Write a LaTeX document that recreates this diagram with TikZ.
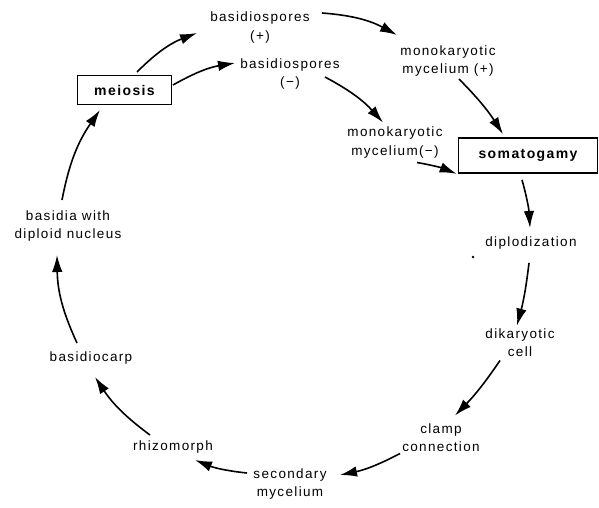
\documentclass[tikz,border=0pt]{standalone}
\usepackage{fontspec}
\setmainfont{Liberation Sans}[LetterSpace=10]
\usetikzlibrary{arrows.meta,calc}
\tikzset{
  lbl/.style={align=center,inner sep=1pt,font=\fontsize{13.5}{18.5}\selectfont},
  boxnode/.style={draw,line width=1.7pt,align=center,inner sep=0pt,font=\fontsize{14}{16}\selectfont\bfseries},
  arr/.style={line width=1.6pt,-{Latex[length=17pt,width=10.5pt]}},
}
\begin{document}
\begin{tikzpicture}[x=1pt,y=-1pt]
\useasboundingbox (0,0) rectangle (599,508);
% nodes
\node[boxnode,minimum width=94pt,minimum height=29pt] (mei) at (124.5,90) {meiosis};
\node[boxnode,minimum width=139pt,minimum height=35pt] (som) at (528,155.5) {somatogamy};
\node[lbl] (bp) at (260,27.5) {basidiospores\\(+)};
\node[lbl] (bm) at (290,74) {basidiospores\\(−)};
\node[lbl] (mp) at (448,61) {monokaryotic\\mycelium (+)};
\node[lbl] (mm) at (395,142.5) {monokaryotic\\mycelium(−)};
\node[lbl] (dip) at (531,243) {diplodization};
\node[lbl] (dik) at (520,342.5) {dikaryotic\\cell};
\node[lbl] (cl) at (441,437.5) {clamp\\connection};
\node[lbl] (sec) at (290,484) {secondary\\mycelium};
\node[lbl] (rhi) at (173,447) {rhizomorph};
\node[lbl] (bc) at (91,358) {basidiocarp};
\node[lbl] (bas) at (68,226) {basidia with\\diploid nucleus};
\fill (473,257) circle (1.3pt);
% connectors
\draw[arr] ($(mei)+(12.5,-18)$) to[bend left=12] ($(bp)+(-63,5.5)$);
\draw[arr] ($(mei)+(48.5,-5)$) to[bend left=10] ($(bm)+(-55,-11)$);
\draw[arr] ($(bp)+(62,-14.5)$) to[bend left=12] ($(mp)+(-51,-26)$);
\draw[arr] ($(bm)+(35,3)$) to[bend left=10] ($(mm)+(-12,-20)$);
\draw[arr] ($(mp)+(11,18)$) to[bend left=6] ($(som.north)+(-25,-3)$);
\draw[arr] ($(mm)+(22,20)$) to[bend left=6] ($(som.south west)+(-1,0)$);
\draw[arr] ($(som.south)+(-6,6)$) to[bend left=6] ($(dip)+(-1,-15)$);
\draw[arr] ($(dip)+(-2,20)$) to[bend left=4] ($(dik)+(-3,-17)$);
\draw[arr] ($(dik)+(-20,18)$) to[bend left=5] ($(cl)+(14,-22)$);
\draw[arr] ($(cl)+(-41,16)$) to[bend left=8] ($(sec)+(50,-9)$);
\draw[arr] ($(sec)+(-43,-11)$) to[bend left=8] ($(rhi)+(22,13)$);
\draw[arr] ($(rhi)+(-23,-12)$) to[bend left=10] ($(bc)+(4,19)$);
\draw[arr] ($(bc)+(-14,-15)$) to[bend left=12] ($(bas)+(-11,29)$);
\draw[arr] ($(bas)+(-6,-26)$) to[bend left=12] ($(mei)+(-24.5,20)$);
\end{tikzpicture}
\end{document}
